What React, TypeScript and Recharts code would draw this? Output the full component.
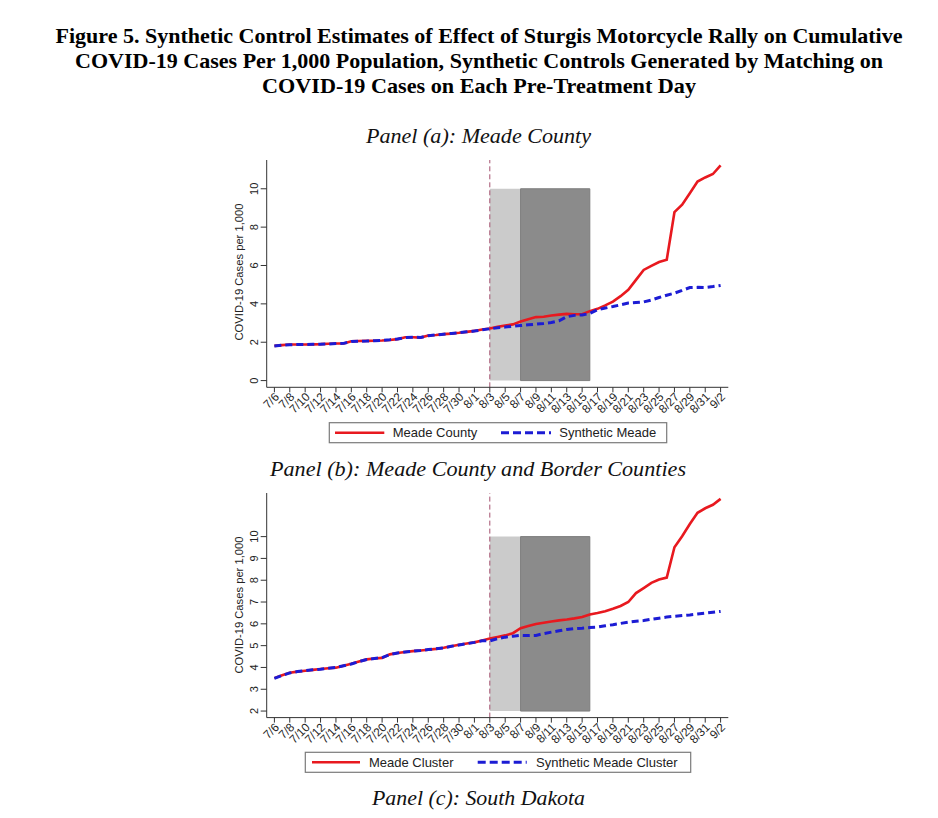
import React from 'react'
import { ComposedChart, Line, XAxis, YAxis, ReferenceArea, ReferenceLine } from 'recharts'

// day labels, 7/6 through 9/2
const dates = [
  '7/6', '7/7', '7/8', '7/9', '7/10', '7/11', '7/12', '7/13', '7/14', '7/15',
  '7/16', '7/17', '7/18', '7/19', '7/20', '7/21', '7/22', '7/23', '7/24', '7/25',
  '7/26', '7/27', '7/28', '7/29', '7/30', '7/31', '8/1', '8/2', '8/3', '8/4',
  '8/5', '8/6', '8/7', '8/8', '8/9', '8/10', '8/11', '8/12', '8/13', '8/14',
  '8/15', '8/16', '8/17', '8/18', '8/19', '8/20', '8/21', '8/22', '8/23', '8/24',
  '8/25', '8/26', '8/27', '8/28', '8/29', '8/30', '8/31', '9/1', '9/2'
]

// panel (a)
const meadeCounty = [
  1.81, 1.85, 1.88, 1.88, 1.88, 1.89, 1.9, 1.92, 1.93, 1.93,
  2.05, 2.06, 2.07, 2.08, 2.09, 2.12, 2.16, 2.26, 2.26, 2.24,
  2.35, 2.38, 2.42, 2.45, 2.49, 2.54, 2.59, 2.66, 2.72, 2.8,
  2.87, 2.93, 3.08, 3.2, 3.31, 3.33, 3.39, 3.44, 3.48, 3.46,
  3.46, 3.62, 3.74, 3.92, 4.12, 4.4, 4.73, 5.25, 5.77, 5.98,
  6.18, 6.3, 8.78, 9.17, 9.77, 10.38, 10.59, 10.77, 11.22
]
const syntheticMeade = [
  1.8, 1.85, 1.87, 1.88, 1.88, 1.89, 1.9, 1.91, 1.93, 1.94,
  2.04, 2.05, 2.06, 2.08, 2.1, 2.13, 2.17, 2.24, 2.26, 2.25,
  2.34, 2.38, 2.42, 2.46, 2.5, 2.54, 2.58, 2.65, 2.7, 2.75,
  2.79, 2.83, 2.87, 2.91, 2.94, 2.98, 3.03, 3.12, 3.33, 3.4,
  3.42, 3.5, 3.69, 3.78, 3.86, 3.95, 4.04, 4.07, 4.1, 4.2,
  4.33, 4.45, 4.56, 4.7, 4.85, 4.86, 4.85, 4.9, 4.96
]

// panel (b)
const meadeCluster = [
  3.51, 3.64, 3.76, 3.81, 3.85, 3.89, 3.93, 3.96, 3.99, 4.08,
  4.17, 4.27, 4.37, 4.41, 4.44, 4.6, 4.66, 4.71, 4.75, 4.78,
  4.81, 4.85, 4.9, 4.97, 5.04, 5.1, 5.15, 5.24, 5.33, 5.4,
  5.47, 5.57, 5.8, 5.9, 5.99, 6.05, 6.11, 6.16, 6.2, 6.25,
  6.31, 6.43, 6.5, 6.58, 6.69, 6.82, 7.0, 7.41, 7.64, 7.88,
  8.03, 8.12, 9.51, 10.02, 10.58, 11.09, 11.3, 11.46, 11.73
]
const syntheticMeadeCluster = [
  3.5, 3.63, 3.75, 3.81, 3.85, 3.89, 3.92, 3.96, 4.0, 4.08,
  4.16, 4.27, 4.36, 4.41, 4.45, 4.59, 4.66, 4.71, 4.75, 4.78,
  4.82, 4.86, 4.9, 4.97, 5.03, 5.09, 5.15, 5.22, 5.22, 5.32,
  5.39, 5.43, 5.47, 5.46, 5.47, 5.55, 5.62, 5.68, 5.74, 5.78,
  5.8, 5.83, 5.85, 5.91, 5.96, 6.02, 6.08, 6.12, 6.15, 6.21,
  6.26, 6.31, 6.35, 6.38, 6.41, 6.45, 6.49, 6.53, 6.57
]

const ticksA = [0, 2, 4, 6, 8, 10]
const ticksB = [2, 3, 4, 5, 6, 7, 8, 9, 10]

// rally window: 8/3 start, 8/7 - 8/16 main event
const treatIdx = 28
const rallyStart = 32
const rallyEnd = 41

const RED = '#e8191f'
const BLUE = '#1c1cd4'
const SANS = '"Liberation Sans", Arial, sans-serif'
const SERIF = '"Liberation Serif", "Times New Roman", serif'

const dateTicks = dates.map((_, i) => i).filter(i => i % 2 === 0)

const YTick = ({ y, payload }: any) => (
  <text
    x={258}
    y={y}
    transform={`rotate(-90, 258, ${y})`}
    textAnchor="middle"
    fontSize={11}
    fontFamily={SANS}
    fill="#222">
    {payload.value}
  </text>
)

const XTick = ({ x, y, payload }: any) => (
  <text
    x={x + 2.5}
    y={y + 2.5}
    dy="0.35em"
    transform={`rotate(-45, ${x + 2.5}, ${y + 2.5})`}
    textAnchor="end"
    fontSize={11.8}
    fontFamily={SANS}
    fill="#222">
    {dates[payload.value]}
  </text>
)

function Panel({ top, plotH, red, blue, domain, ticks, yLow }: any) {
  const data = dates.map((d, i) => ({ i, date: d, red: red[i], blue: blue[i] }))
  const height = 310
  return (
    <div style={{ position: 'absolute', left: 0, top }}>
      <ComposedChart
        width={938}
        height={height}
        data={data}
        margin={{ top: 10, right: 209.7, left: 0, bottom: 0 }}>
        <XAxis
          dataKey="i"
          type="number"
          domain={[-1, 59]}
          ticks={dateTicks}
          interval={0}
          height={height - 10 - plotH}
          tickSize={5}
          tickMargin={0}
          stroke="#333"
          tick={<XTick />}
        />
        <YAxis
          type="number"
          domain={domain}
          ticks={ticks}
          interval={0}
          allowDataOverflow
          width={266.7}
          tickSize={6}
          stroke="#333"
          tick={<YTick />}
        />
        <ReferenceArea x1={treatIdx} x2={rallyStart} y1={yLow} y2={10} fill="#cbcbcb" fillOpacity={1} stroke="none" />
        <ReferenceArea x1={rallyStart} x2={rallyEnd} y1={yLow} y2={10} fill="#8b8b8b" fillOpacity={1} stroke="#7d7d7d" />
        <ReferenceLine x={treatIdx} stroke="#a4506e" strokeDasharray="5 3" strokeWidth={1} />
        <Line type="linear" dataKey="red" stroke={RED} strokeWidth={2.6} dot={false} isAnimationActive={false} />
        <Line type="linear" dataKey="blue" stroke={BLUE} strokeWidth={3} strokeDasharray="7 4" dot={false} isAnimationActive={false} />
      </ComposedChart>
    </div>
  )
}

function LegendBox({ x1, x2, y1, y2, redX, redLabelX, blueX, blueLabelX, redLabel, blueLabel }: any) {
  const cy = (y1 + y2) / 2
  return (
    <g>
      <rect x={x1} y={y1} width={x2 - x1} height={y2 - y1} fill="#fff" stroke="#7a7a7a" strokeWidth={1.2} />
      <line x1={redX[0]} x2={redX[1]} y1={cy} y2={cy} stroke={RED} strokeWidth={2.6} />
      <text x={redLabelX} y={cy + 4.6} fontSize={13} fontFamily={SANS} fill="#222">{redLabel}</text>
      <line x1={blueX[0]} x2={blueX[1]} y1={cy} y2={cy} stroke={BLUE} strokeWidth={3} strokeDasharray="8 4" />
      <text x={blueLabelX} y={cy + 4.6} fontSize={13} fontFamily={SANS} fill="#222">{blueLabel}</text>
    </g>
  )
}

export default function App() {
  return (
    <div style={{ position: 'absolute', left: 0, top: 0, width: 938, height: 818, background: '#fff' }}>
      <Panel top={150} plotH={227.3} red={meadeCounty} blue={syntheticMeade} domain={[-0.35, 11.5]} ticks={ticksA} yLow={0} />
      <Panel top={482.7} plotH={224.6} red={meadeCluster} blue={syntheticMeadeCluster} domain={[1.7, 12]} ticks={ticksB} yLow={2} />
      <svg width={938} height={818} style={{ position: 'absolute', left: 0, top: 0, pointerEvents: 'none' }}>
        <g fontFamily={SERIF} fontWeight="bold" fontSize={21} fill="#000" textAnchor="middle">
          <text x={479} y={43} textLength={847} lengthAdjust="spacingAndGlyphs">
            Figure 5. Synthetic Control Estimates of Effect of Sturgis Motorcycle Rally on Cumulative
          </text>
          <text x={479} y={68} textLength={808} lengthAdjust="spacingAndGlyphs">
            COVID-19 Cases Per 1,000 Population, Synthetic Controls Generated by Matching on
          </text>
          <text x={479} y={93} textLength={434} lengthAdjust="spacingAndGlyphs">
            COVID-19 Cases on Each Pre-Treatment Day
          </text>
        </g>
        <g fontFamily={SERIF} fontStyle="italic" fontSize={22} fill="#111" textAnchor="middle">
          <text x={478.5} y={143} textLength={225} lengthAdjust="spacingAndGlyphs">Panel (a): Meade County</text>
          <text x={478} y={476} textLength={416} lengthAdjust="spacingAndGlyphs">Panel (b): Meade County and Border Counties</text>
          <text x={478.5} y={805} textLength={213} lengthAdjust="spacingAndGlyphs">Panel (c): South Dakota</text>
        </g>
        <g fontFamily={SANS} fontSize={11.6} fill="#222" textAnchor="middle">
          <text x={242.5} y={272} transform="rotate(-90, 242.5, 272)" textLength={137} lengthAdjust="spacingAndGlyphs">COVID-19 Cases per 1,000</text>
          <text x={242.5} y={605} transform="rotate(-90, 242.5, 605)" textLength={137} lengthAdjust="spacingAndGlyphs">COVID-19 Cases per 1,000</text>
        </g>
        <LegendBox
          x1={329.3} x2={666.7} y1={422.7} y2={442.7}
          redX={[335, 384.3]} redLabelX={392.7}
          blueX={[501, 551]} blueLabelX={559.3}
          redLabel="Meade County" blueLabel="Synthetic Meade"
        />
        <LegendBox
          x1={305.3} x2={690.7} y1={752.3} y2={772.3}
          redX={[312, 360]} redLabelX={369}
          blueX={[477.7, 526.7]} blueLabelX={536}
          redLabel="Meade Cluster" blueLabel="Synthetic Meade Cluster"
        />
      </svg>
    </div>
  )
}
